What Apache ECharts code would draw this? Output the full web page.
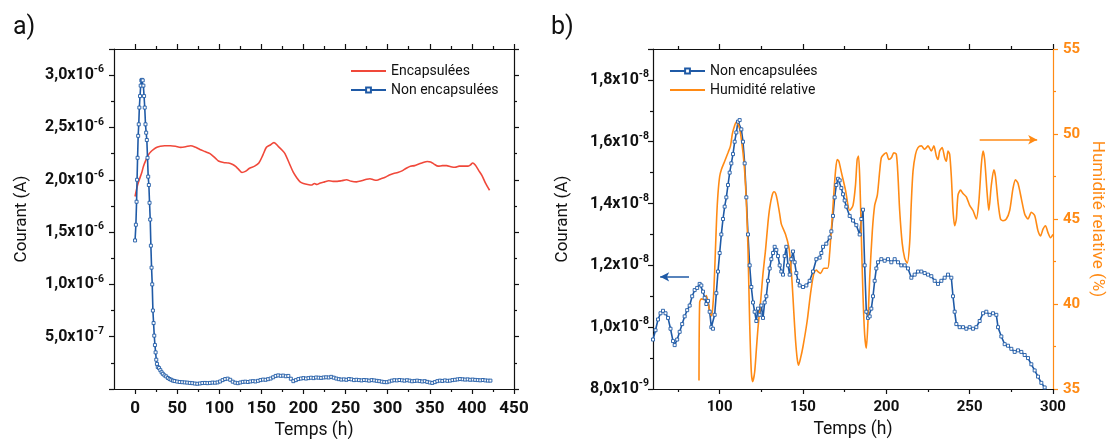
<!DOCTYPE html>
<html>
<head>
<meta charset="utf-8">
<script src="https://cdn.jsdelivr.net/npm/echarts@6/dist/echarts.min.js"></script>
<style>
html,body{margin:0;padding:0;background:#fff;}
#chart{width:1111px;height:439px;}
</style>
</head>
<body>
<div id="chart"></div>
<script>
// ---------- Panel a data (current in units of 1e-6 A, time in h) ----------
const aEncTimes = [0,3,5,8,10,13,16,19,22,26,30,35,42,48,54,60,66,72,77,83,89,95,99,105,111,116,119,123,127,131,136,142,147,152,156,160,165,170,175,178,183,188,192,196,200,205,210,213,216,220,225,230,235,240,245,251,257,263,269,275,279,283,287,292,297,302,307,312,317,322,327,332,337,342,347,351,355,360,365,370,375,380,385,390,395,398,401,404,408,412,416,421];
const aEnc = [1.84,1.95,2.00,2.07,2.13,2.19,2.24,2.27,2.29,2.31,2.32,2.325,2.325,2.32,2.31,2.315,2.325,2.31,2.29,2.27,2.25,2.21,2.18,2.165,2.16,2.145,2.13,2.10,2.07,2.08,2.11,2.13,2.16,2.24,2.31,2.33,2.355,2.32,2.28,2.25,2.16,2.07,2.02,1.98,1.965,1.955,1.95,1.965,1.955,1.97,1.98,1.99,1.985,1.985,1.99,2.00,1.985,1.98,1.99,2.005,2.01,2.00,1.995,2.01,2.025,2.045,2.06,2.07,2.085,2.11,2.13,2.135,2.15,2.165,2.175,2.17,2.15,2.13,2.135,2.135,2.125,2.12,2.13,2.13,2.13,2.14,2.16,2.14,2.09,2.04,1.97,1.90];

const aNonTimes = [0,1,1.8,2.4,3,3.7,4.4,5.1,5.9,6.7,7.5,8.3,9.1,9.9,10.7,11.5,12.4,13.2,14,14.8,15.6,16.4,17.2,18,18.8,19.6,20.4,21.2,22,22.8,23.6,24.4,25.2,26,27,28.5,30,31.5,33,35,37,39,41,43,45,47,50,
  53,56,59,62,65,68,71,74,77,80,83,86,89,92,95,98,101,104,107,110,113,116,119,122,125,128,131,134,137,140,143,146,149,152,155,158,161,164,167,170,173,176,179,182,185,188,191,194,197,200,203,206,209,212,215,218,221,224,227,230,233,236,239,242,245,248,251,254,257,260,263,266,269,272,275,278,281,284,287,290,293,296,299,302,305,308,311,314,317,320,323,326,329,332,335,338,341,344,347,350,353,356,359,362,365,368,371,374,377,380,383,386,389,392,395,398,401,404,407,410,413,416,419,422];
const aNon = [1.42,1.57,1.79,2.00,2.21,2.42,2.53,2.69,2.80,2.90,2.95,2.955,2.95,2.90,2.80,2.69,2.53,2.45,2.38,2.21,2.03,1.95,1.78,1.62,1.37,1.16,1.00,0.75,0.63,0.51,0.42,0.35,0.28,0.24,0.21,0.20,0.18,0.16,0.145,0.13,0.12,0.105,0.095,0.088,0.08,0.076,0.071,
  0.067,0.065,0.063,0.061,0.058,0.056,0.052,0.050,0.053,0.057,0.058,0.056,0.058,0.061,0.060,0.063,0.072,0.085,0.095,0.099,0.088,0.070,0.060,0.056,0.062,0.068,0.070,0.067,0.072,0.075,0.072,0.078,0.085,0.090,0.088,0.094,0.100,0.112,0.125,0.130,0.126,0.128,0.122,0.125,0.098,0.075,0.085,0.095,0.100,0.104,0.100,0.104,0.108,0.104,0.110,0.108,0.106,0.110,0.112,0.110,0.116,0.108,0.100,0.094,0.090,0.092,0.088,0.095,0.092,0.085,0.088,0.085,0.082,0.086,0.084,0.080,0.085,0.082,0.078,0.075,0.070,0.066,0.065,0.072,0.080,0.084,0.082,0.086,0.083,0.080,0.084,0.080,0.074,0.077,0.080,0.076,0.072,0.075,0.068,0.062,0.058,0.066,0.075,0.080,0.077,0.082,0.078,0.080,0.085,0.088,0.092,0.095,0.093,0.090,0.092,0.088,0.090,0.087,0.085,0.083,0.086,0.082,0.080,0.080];

// ---------- Panel b data (current in units of 1e-8 A, humidity in %) ----------
const bNonTimes = [60,61.5,63,64.5,66,67.5,69,70.5,72,73,74.5,76,77.5,79,80.5,82,83.5,85,86.5,88,89,90,91,92,93,94,95,96,97,98,99,100,101,102,103,104,105,106,107,108,109,110,111,112,113,114,115,116,117,118,119,120,121,122,123,124,125,126,127,128,129,130,131,132,133,134,135,136,137,138,139,140,141,142,143,144,145,146,147,148,150,152,154,156,158,160,161,162,164,166,167,168,169,170,171,172,173,174,175,176,178,180,182,184,185,186,187,188,189,190,191,192,193,194,195,197,199,201,203,205,207,209,211,213,215,217,219,221,223,225,227,229,231,233,235,237,239,240,241,242,244,246,248,250,252,254,256,258,260,262,264,266,267,269,271,273,275,277,279,281,283,285,287,289,291,293,295];
const bNon = [0.96,0.99,1.025,1.045,1.053,1.045,1.03,0.995,0.955,0.942,0.96,0.985,1.01,1.035,1.055,1.07,1.10,1.12,1.127,1.14,1.135,1.115,1.095,1.075,1.085,1.05,1.00,0.995,1.04,1.11,1.18,1.24,1.30,1.35,1.39,1.42,1.46,1.50,1.53,1.56,1.60,1.63,1.665,1.67,1.64,1.60,1.53,1.42,1.30,1.20,1.13,1.08,1.05,1.02,1.06,1.04,1.07,1.03,1.08,1.10,1.15,1.19,1.22,1.24,1.26,1.25,1.23,1.20,1.18,1.17,1.23,1.26,1.20,1.17,1.22,1.245,1.21,1.175,1.15,1.135,1.13,1.135,1.15,1.18,1.22,1.225,1.24,1.26,1.27,1.29,1.31,1.36,1.42,1.46,1.48,1.475,1.45,1.43,1.41,1.39,1.36,1.345,1.33,1.30,1.35,1.38,1.20,1.05,1.03,1.035,1.06,1.10,1.15,1.19,1.21,1.22,1.215,1.22,1.21,1.22,1.21,1.20,1.20,1.19,1.16,1.17,1.18,1.18,1.175,1.17,1.165,1.15,1.14,1.15,1.16,1.17,1.16,1.10,1.05,1.01,1.00,1.00,0.995,1.00,0.995,1.00,1.02,1.045,1.05,1.04,1.045,1.04,1.00,0.97,0.945,0.94,0.93,0.92,0.925,0.92,0.91,0.90,0.88,0.86,0.84,0.82,0.805];

const bHumTimes = [87.6,88,89,90.6,92,93,94,95.2,96,96.6,97.4,98.2,99,100,101,103,105,106.5,107.6,109,110,111,112,113,114,115,116,117,118,119,119.8,121,122,123,124.6,126,127.5,129,130.1,131.5,132.6,133.6,134.6,136,137,139.5,141.5,142.5,143.5,144.5,145.5,146.5,147.3,148.5,150,152.5,154.5,156.5,158,159,160.5,162.5,164.8,166,166.5,167.5,168.5,169.5,170.5,171.5,172.9,175.5,178,180,181.5,182.5,183.3,184.2,185,186,187,188,189,190,191.6,193,194.6,196,197,198.5,200,201.5,203,204.5,206,207,208,209.5,211,212.5,214,215,216,217.5,219,221,223,225,227,228.5,230,231,232,233.5,235,236,237,238,239,240,241,242,243,244.5,246,248,250,252,254,255.5,257,258,259,260.5,261.5,263,264.5,265.5,267,268.5,270,272,274,276,277.5,279,281,283,285,287,289,291,292.5,294,295.5,297,298.5,300];
const bHum = [35.5,40.1,40.3,40.26,40.5,40.1,39.6,39.3,40.0,41.0,43.0,45.1,46.5,47.5,47.9,48.4,48.9,49.3,50.0,50.5,50.7,50.6,50.3,49.7,48.9,47.8,46.0,43.2,38.9,36.0,35.43,36.0,37.3,38.6,40.2,41.8,43.15,44.8,45.7,46.4,46.6,46.5,46.1,45.3,44.7,44.1,43.35,42.5,41.2,39.5,37.9,36.8,36.4,36.8,37.5,39.0,40.6,41.8,42.0,41.9,41.8,42.1,42.1,43.0,43.7,45.0,46.5,47.8,48.5,48.4,47.8,46.7,45.5,45.8,47.0,48.5,48.7,47.0,44.0,40.5,38.2,37.4,39.0,41.5,44.3,45.8,46.4,47.8,48.6,48.8,48.9,48.5,48.6,48.9,48.8,47.5,45.5,43.6,42.7,42.4,43.6,46.0,47.8,48.8,49.2,49.3,49.1,49.3,49.0,49.3,48.7,48.5,49.0,49.2,48.6,48.4,49.0,48.8,47.5,45.5,44.6,45.0,46.4,46.7,46.5,46.3,45.8,45.5,45.0,46.0,48.2,49.0,48.5,46.5,45.5,47.0,47.9,47.5,46.0,45.0,44.9,45.0,45.5,46.8,47.3,47.1,46.2,45.3,45.0,45.4,45.2,44.3,44.0,44.4,44.6,44.2,43.9,44.1];

// ---------- Tick labels / annotation arrows ----------
const aXTicks = [0,50,100,150,200,250,300,350,400,450];
const aXMinor = [25,75,125,175,225,275,325,375,425];
const bXTicks = [100,150,200,250,300];
const bXMinor = [75,125,175,225,275];
const bArrowBlue = [[81.6,1.163],[64.3,1.163]];
const bArrowHum = [[256,49.66],[290.5,49.66]];

const BLUE = '#1f5aa6', RED = '#f0483a', ORANGE = '#ff8a14', INK = '#111';
const FONT = 'Roboto';

function zip(t, v){ return t.map((x,i)=>[x, v[i]]); }

function sciFmt(unit){
  return function(v){
    if (v <= 0) return '';
    const real = v * unit;
    const e = Math.floor(Math.log10(real) + 1e-9);
    const m = real / Math.pow(10, e);
    return '{m|' + m.toFixed(1).replace('.', ',') + 'x10}{e|' + e + '}';
  };
}
const sciRich = {
  m: {fontFamily: FONT, fontSize: 16, fontWeight: 'bold', color: INK, lineHeight: 22},
  e: {fontFamily: FONT, fontSize: 10.5, fontWeight: 'bold', color: INK, lineHeight: 12, verticalAlign: 'top'}
};

const lineAx = {show: true, onZero: false, lineStyle: {color: INK, width: 1.2}};
function xMain(grid, min, max, ticks, fs){
  return {type:'value', gridIndex:grid, position:'bottom', min:min, max:max,
    axisLine: lineAx, splitLine:{show:false},
    axisTick:{show:true, length:5, customValues:ticks, lineStyle:{color:INK, width:1.2}},
    axisLabel:{customValues:ticks, margin:11, fontFamily:FONT, fontSize:fs, fontWeight:'bold', color:INK},
    name:'Temps (h)', nameLocation:'middle', nameGap:32,
    nameTextStyle:{fontFamily:FONT, fontSize:17.5, color:INK}};
}
function xTicksOnly(grid, min, max, ticks, pos, len, line){
  return {type:'value', gridIndex:grid, position:pos, min:min, max:max,
    axisLine: line ? lineAx : {show:false, onZero:false}, splitLine:{show:false},
    axisTick:{show:true, length:len, customValues:ticks, lineStyle:{color:INK, width:1.2}},
    axisLabel:{show:false}};
}

const legendText = {fontFamily:FONT, fontSize:14, color:INK, lineHeight:14};

const option = {
  animation: false,
  backgroundColor: '#fff',
  textStyle: {fontFamily: FONT},
  title: [
    {text:'a)', left:8, top:10, textStyle:{fontFamily:FONT, fontSize:25, fontWeight:'normal', color:INK}},
    {text:'b)', left:546, top:10, textStyle:{fontFamily:FONT, fontSize:25, fontWeight:'normal', color:INK}}
  ],
  grid: [
    {left:114, top:49, width:400, height:340, containLabel:false, outerBoundsMode:'none'},
    {left:653, top:49, width:400, height:340, containLabel:false, outerBoundsMode:'none'}
  ],
  legend: [
    {data:[{name:'Encapsulées', itemStyle:{opacity:0}}, 'Non encapsulées'], orient:'vertical', left:345, top:59,
     itemWidth:35, itemHeight:6, itemGap:5, textStyle:legendText},
    {data:['Non encapsulées', {name:'Humidité relative', itemStyle:{opacity:0}}], orient:'vertical', left:664, top:59,
     itemWidth:35, itemHeight:6, itemGap:5, textStyle:legendText}
  ],
  xAxis: [
    xMain(0, -25, 450, aXTicks, 17),
    xTicksOnly(0, -25, 450, aXMinor, 'bottom', 3, false),
    xTicksOnly(0, -25, 450, aXTicks, 'top', 5, true),
    xTicksOnly(0, -25, 450, aXMinor, 'top', 3, false),
    xMain(1, 60, 300, bXTicks, 15),
    xTicksOnly(1, 60, 300, bXMinor, 'bottom', 3, false),
    xTicksOnly(1, 60, 300, bXTicks, 'top', 5, true),
    xTicksOnly(1, 60, 300, bXMinor, 'top', 3, false)
  ],
  yAxis: [
    {type:'value', gridIndex:0, position:'left', min:0, max:3.25, interval:0.5,
     axisLine: lineAx, splitLine:{show:false},
     axisTick:{show:true, length:5, lineStyle:{color:INK, width:1.2}},
     minorTick:{show:true, splitNumber:2, length:3, lineStyle:{color:INK, width:1.2}},
     axisLabel:{formatter: sciFmt(1e-6), rich: sciRich, margin:10, showMaxLabel:false},
     name:'Courant (A)', nameLocation:'middle', nameRotate:90, nameGap:84,
     nameTextStyle:{fontFamily:FONT, fontSize:17, color:INK}},
    {type:'value', gridIndex:0, position:'right', min:0, max:3.25, interval:0.5,
     axisLine: lineAx, splitLine:{show:false},
     axisTick:{show:true, length:5, lineStyle:{color:INK, width:1.2}},
     minorTick:{show:true, splitNumber:2, length:3, lineStyle:{color:INK, width:1.2}},
     axisLabel:{show:false}},
    {type:'value', gridIndex:1, position:'left', min:0.8, max:1.9, interval:0.2,
     axisLine: lineAx, splitLine:{show:false},
     axisTick:{show:true, length:5, lineStyle:{color:INK, width:1.2}},
     minorTick:{show:true, splitNumber:2, length:3, lineStyle:{color:INK, width:1.2}},
     axisLabel:{formatter: sciFmt(1e-8), rich: sciRich, margin:4, showMinLabel:true, showMaxLabel:false},
     name:'Courant (A)', nameLocation:'middle', nameRotate:90, nameGap:82,
     nameTextStyle:{fontFamily:FONT, fontSize:17, color:INK}},
    {type:'value', gridIndex:1, position:'right', min:35, max:55, interval:5,
     axisLine:{show:true, onZero:false, lineStyle:{color:ORANGE, width:1.2}}, splitLine:{show:false},
     axisTick:{show:true, length:5, lineStyle:{color:ORANGE, width:1.2}},
     minorTick:{show:true, splitNumber:2, length:3, lineStyle:{color:ORANGE, width:1.2}},
     axisLabel:{margin:10, fontFamily:FONT, fontSize:15, fontWeight:'bold', color:ORANGE},
     name:'Humidité relative (%)', nameLocation:'middle', nameRotate:-90, nameGap:36,
     nameTextStyle:{fontFamily:FONT, fontSize:17, color:ORANGE}}
  ],
  series: [
    {name:'Encapsulées', type:'line', xAxisIndex:0, yAxisIndex:0, data: zip(aEncTimes, aEnc),
     symbol:'none', smooth:0.3, color:RED, lineStyle:{color:RED, width:1.6}},
    {name:'Non encapsulées', type:'line', xAxisIndex:0, yAxisIndex:0, data: zip(aNonTimes, aNon),
     symbol:'rect', symbolSize:3, color:BLUE,
     itemStyle:{color:'#fff', borderColor:BLUE, borderWidth:0.9},
     lineStyle:{color:BLUE, width:1.6}},
    {name:'Non encapsulées', type:'line', xAxisIndex:4, yAxisIndex:2, data: zip(bNonTimes, bNon),
     symbol:'rect', symbolSize:3, color:BLUE,
     itemStyle:{color:'#fff', borderColor:BLUE, borderWidth:0.9},
     lineStyle:{color:BLUE, width:1.6},
     markLine:{silent:true, symbol:['none','arrow'], symbolSize:[7,9], label:{show:false},
       lineStyle:{color:BLUE, type:'solid', width:1.5},
       data:[[{coord:bArrowBlue[0]},{coord:bArrowBlue[1]}]]}},
    {name:'Humidité relative', type:'line', xAxisIndex:4, yAxisIndex:3, data: zip(bHumTimes, bHum),
     symbol:'none', smooth:0.25, color:ORANGE, lineStyle:{color:ORANGE, width:1.6},
     markLine:{silent:true, symbol:['none','arrow'], symbolSize:[7,9], label:{show:false},
       lineStyle:{color:ORANGE, type:'solid', width:1.5},
       data:[[{coord:bArrowHum[0]},{coord:bArrowHum[1]}]]}}
  ]
};

const chart = echarts.init(document.getElementById('chart'), null, {renderer:'canvas'});
chart.setOption(option);
</script>
</body>
</html>
